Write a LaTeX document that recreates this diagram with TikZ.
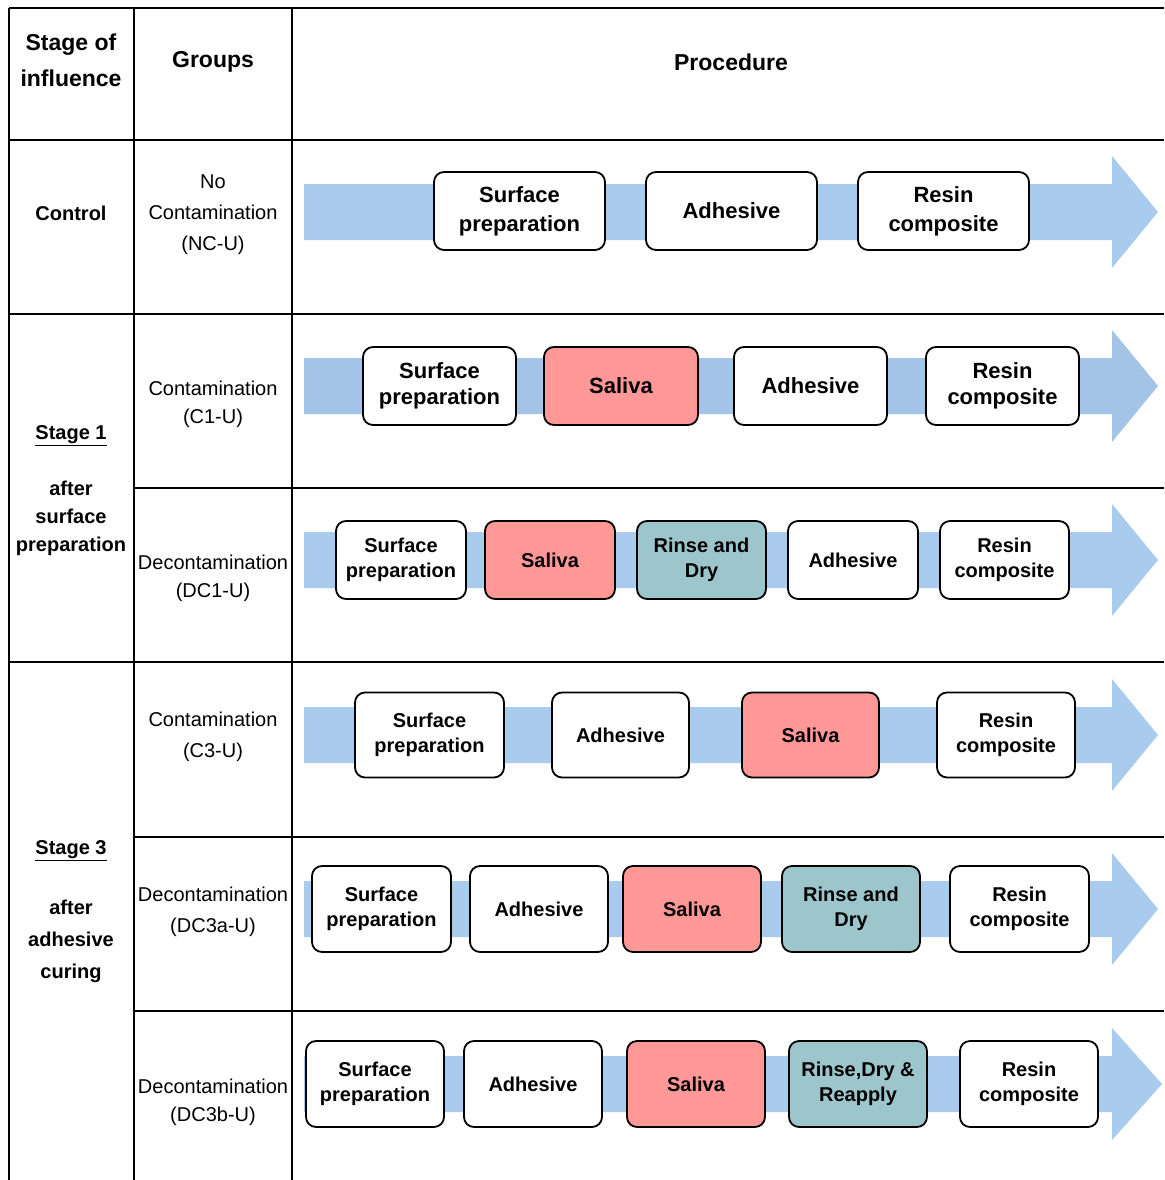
\documentclass[tikz,border=0pt]{standalone}
\usepackage{fontspec}
\setmainfont{Liberation Sans}
\usepackage{tikz}

\definecolor{flowblue}{HTML}{A9CBEE}
\definecolor{flowblueb}{HTML}{A3C4E6}
\definecolor{salivared}{HTML}{FF9897}
\definecolor{rinseteal}{HTML}{9DC6CC}

\begin{document}
\begin{tikzpicture}[x=1pt,y=-1pt,
    gridline/.style={line width=2pt,black},
    stepbox/.style={draw=black,line width=1.8pt,rounded corners=10pt,align=center,inner sep=2pt},
    plainstep/.style={fill=white},
    salivastep/.style={fill=salivared},
    rinsestep/.style={fill=rinseteal},
    headtext/.style={font=\fontsize{23}{36}\bfseries\selectfont,align=center},
    stagetext/.style={font=\fontsize{20}{28}\bfseries\selectfont,align=center},
    grouptext/.style={font=\fontsize{20}{31}\selectfont,align=center}]
  \useasboundingbox (0,0) rectangle (1164,1180);

  % table grid
  \foreach \y in {8,140,314,662}
    \draw[gridline] (9,\y) -- (1164,\y);
  \foreach \y in {488,837,1011}
    \draw[gridline] (134,\y) -- (1164,\y);
  \foreach \x in {9,134,292}
    \draw[gridline] (\x,8) -- (\x,1180);

  % header
  \node[headtext] (hstage) at (71,60) {Stage of\\influence};
  \node[headtext] (hgroup) at (213,62) {Groups};
  \node[headtext] (hproc) at (731,62) {Procedure};

  % left column
  \node[stagetext] (sctl) at (71,213) {Control};
  \node[stagetext] (s1) at (71,436) {\underline{Stage 1}};
  \node[stagetext] (s1txt) at (71,518) {after\\surface\\preparation};
  \node[stagetext,font=\fontsize{20}{32}\bfseries\selectfont] (s3) at (71,851) {\underline{Stage 3}};
  \node[stagetext,font=\fontsize{20}{32}\bfseries\selectfont] (s3txt) at (71,941) {after\\adhesive\\curing};

  % groups column
  \node[grouptext] (gnc) at (213,215) {No\\Contamination\\(NC-U)};
  \node[grouptext,font=\fontsize{20}{28}\selectfont] (gc1) at (213,404) {Contamination\\(C1-U)};
  \node[grouptext,font=\fontsize{20}{28}\selectfont] (gdc1) at (213,578) {Decontamination\\(DC1-U)};
  \node[grouptext] (gc3) at (213,737) {Contamination\\(C3-U)};
  \node[grouptext] (gdc3a) at (213,912) {Decontamination\\(DC3a-U)};
  \node[grouptext,font=\fontsize{20}{28}\selectfont] (gdc3b) at (213,1102) {Decontamination\\(DC3b-U)};

  % flow arrows
  \foreach \yc/\tip/\col in {212/1158/flowblue,386/1158/flowblueb,560/1158/flowblue,
                             735/1158/flowblue,909/1158/flowblue,1084/1162/flowblue}
    \fill[\col] (304,\yc-28) -- (1112,\yc-28) -- (1112,\yc-56) -- (\tip,\yc)
      -- (1112,\yc+56) -- (1112,\yc+28) -- (304,\yc+28) -- cycle;

  % control: NC-U
  \begin{scope}[font=\fontsize{22}{29}\bfseries\selectfont]
    \foreach \xa/\xb/\txt/\kind [count=\i] in {434/605/{Surface\\preparation}/plainstep,
        646/817/Adhesive/plainstep, 858/1029/{Resin\\composite}/plainstep}
      \node[stepbox,\kind,minimum width={\xb-\xa},minimum height=78] (nc\i) at ({(\xa+\xb)/2},211) {\txt};
  \end{scope}

  % stage 1: C1-U
  \begin{scope}[font=\fontsize{22}{26}\bfseries\selectfont]
    \foreach \xa/\xb/\txt/\kind [count=\i] in {363/516/{Surface\\preparation}/plainstep,
        544/698/Saliva/salivastep, 734/887/Adhesive/plainstep, 926/1079/{Resin\\composite}/plainstep}
      \node[stepbox,\kind,minimum width={\xb-\xa},minimum height=78] (ca\i) at ({(\xa+\xb)/2},386) {\txt};
  \end{scope}

  % stage 1: DC1-U
  \begin{scope}[font=\fontsize{20}{25}\bfseries\selectfont]
    \foreach \xa/\xb/\txt/\kind [count=\i] in {336/466/{Surface\\preparation}/plainstep,
        485/615/Saliva/salivastep, 637/766/{Rinse and\\Dry}/rinsestep,
        788/918/Adhesive/plainstep, 940/1069/{Resin\\composite}/plainstep}
      \node[stepbox,\kind,minimum width={\xb-\xa},minimum height=78] (da\i) at ({(\xa+\xb)/2},560) {\txt};
  \end{scope}

  % stage 3: C3-U
  \begin{scope}[font=\fontsize{20}{25}\bfseries\selectfont]
    \foreach \xa/\xb/\txt/\kind [count=\i] in {355/504/{Surface\\preparation}/plainstep,
        552/689/Adhesive/plainstep, 742/879/Saliva/salivastep, 937/1075/{Resin\\composite}/plainstep}
      \node[stepbox,\kind,minimum width={\xb-\xa},minimum height=85] (cb\i) at ({(\xa+\xb)/2},735) {\txt};
  \end{scope}

  % stage 3: DC3a-U
  \begin{scope}[font=\fontsize{20}{25}\bfseries\selectfont]
    \foreach \xa/\xb/\txt/\kind [count=\i] in {312/451/{Surface\\preparation}/plainstep,
        470/608/Adhesive/plainstep, 623/761/Saliva/salivastep,
        782/920/{Rinse and\\Dry}/rinsestep, 950/1089/{Resin\\composite}/plainstep}
      \node[stepbox,\kind,minimum width={\xb-\xa},minimum height=86] (db\i) at ({(\xa+\xb)/2},909) {\txt};
  \end{scope}

  % stage 3: DC3b-U
  \begin{scope}[font=\fontsize{20}{25}\bfseries\selectfont]
    \foreach \xa/\xb/\txt/\kind [count=\i] in {306/444/{Surface\\preparation}/plainstep,
        464/602/Adhesive/plainstep, 627/765/Saliva/salivastep,
        789/927/{Rinse,Dry \&\\Reapply}/rinsestep, 960/1098/{Resin\\composite}/plainstep}
      \node[stepbox,\kind,minimum width={\xb-\xa},minimum height=86] (dc\i) at ({(\xa+\xb)/2},1084) {\txt};
  \end{scope}
\end{tikzpicture}
\end{document}
